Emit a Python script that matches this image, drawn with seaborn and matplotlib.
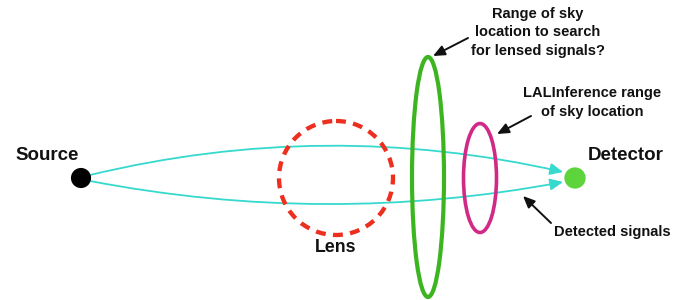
import matplotlib
matplotlib.use('Agg')
import matplotlib.pyplot as plt
import seaborn as sns
import pandas as pd
from matplotlib.patches import Ellipse, Circle, FancyArrowPatch

sns.set_theme(style='white')
plt.rcParams['font.family'] = ['Liberation Sans', 'DejaVu Sans']

# Diagram content
node_names = ['Source', 'Detector']
node_x = [81, 575]
node_y = [178, 178]
node_colors = {'Source': '#000000', 'Detector': '#5ed43c'}
node_sizes = {'Source': 210, 'Detector': 235}

label_big = ['Source', 'Detector', 'Lens']
label_small = ['Range of sky\nlocation to search\nfor lensed signals?',
               'LALInference range\nof sky location',
               'Detected signals']

fig = plt.figure(figsize=(6.85, 3.0), dpi=100)
ax = fig.add_axes([0, 0, 1, 1])

# signal paths (curved arrows)
cyan = '#36d9cd'
for (pa, pb, rad) in [((90, 175), (563, 172), -0.117), ((90, 181), (563, 182), 0.095)]:
    ax.add_patch(FancyArrowPatch(pa, pb, connectionstyle=f"arc3,rad={rad}",
                                 arrowstyle="-|>,head_length=0.55,head_width=0.25",
                                 mutation_scale=14, color=cyan, lw=1.3,
                                 shrinkA=0, shrinkB=0, zorder=2))

# lens
ax.add_patch(Circle((336, 178), 57, fill=False, ec='#ec2f1f', lw=3.1,
                    linestyle=(0, (2.3, 1.7)), zorder=3))
# sky ranges
ax.add_patch(Ellipse((428, 177), 32, 240, fill=False, ec='#3cb521', lw=3.0, zorder=3))
ax.add_patch(Ellipse((480, 178), 33, 109, fill=False, ec='#d02a86', lw=2.6, zorder=3))

# nodes
df = pd.DataFrame({'name': node_names, 'x': node_x, 'y': node_y})
sns.scatterplot(data=df, x='x', y='y', hue='name', palette=node_colors,
                size='name', sizes=node_sizes,
                edgecolor='none', legend=False, ax=ax, zorder=5)
ax.set_xlim(0, 685)
ax.set_ylim(300, 0)
ax.axis('off')

# labels
big = dict(fontsize=13.5, fontweight='bold', ha='center', va='center', color='#111111')
ax.text(47, 156, label_big[0], **big)
ax.text(626, 156, label_big[1], **big)
ax.text(336, 247, label_big[2], fontsize=12.8, fontweight='bold', ha='center', va='center', color='#111111')

small = dict(fontsize=10.5, fontweight='bold', ha='center', va='center', color='#111111', linespacing=1.38)
ax.text(538, 32.5, label_small[0], **small)
ax.text(592, 102.5, label_small[1], **small)
ax.text(612, 232, label_small[2], **small)

# pointer arrows
for (tail, head) in [((468, 38), (433, 56)), ((531, 116), (497, 134)), ((551, 223), (523, 196))]:
    ax.annotate('', xy=head, xytext=tail,
                arrowprops=dict(arrowstyle="-|>,head_length=0.5,head_width=0.22",
                                mutation_scale=14, color='#111111', lw=1.4,
                                shrinkA=0, shrinkB=0))

fig.savefig('out.png', dpi=100)
